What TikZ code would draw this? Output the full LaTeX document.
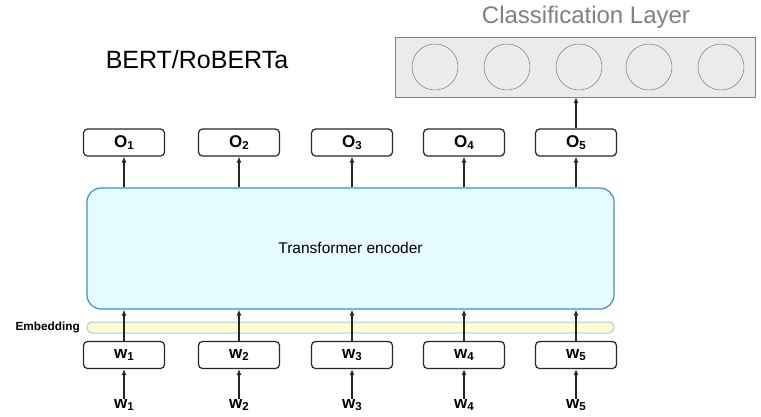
\documentclass[tikz,border=0pt]{standalone}
\usepackage{fontspec}
\setmainfont{Liberation Sans}
\usetikzlibrary{arrows.meta}

\tikzset{
  tokbox/.style={draw=black!85, line width=1.2pt, rounded corners=4pt, minimum width=81pt, minimum height=27pt, inner sep=0pt, font=\fontsize{17}{17}\selectfont\bfseries},
  tok/.style={inner sep=1pt, font=\fontsize{17}{17}\selectfont\bfseries},
  neuron/.style={draw=black!60, circle, minimum size=46pt, inner sep=0pt},
  up/.style={-{Latex[length=6pt,width=5pt]}, line width=1.1pt, black!85}
}
\newcommand{\sub}[1]{\raisebox{-1.5pt}{\fontsize{11.5}{11.5}\selectfont #1}}

\begin{document}
\begin{tikzpicture}[x=1pt, y={(0pt,-1pt)}]
\useasboundingbox (0,0) rectangle (761,416);

% classification layer
\node[text=black!50, font=\fontsize{24}{24}\selectfont] (clstitle) at (586,17) {Classification Layer};
\node[draw=black!50, fill=black!8, minimum width=360pt, minimum height=60pt, inner sep=0pt] (cls) at (575,67) {};
\foreach \i/\x in {1/435,2/507,3/579,4/649,5/721}
  \node[neuron] (c\i) at (\x,67) {};

\node[font=\fontsize{25}{25}\selectfont] (model) at (197,60) {BERT/RoBERTa};

% encoder and embedding
\node[draw={rgb,255:red,58;green,143;blue,216}, line width=1.2pt, fill={rgb,255:red,230;green,251;blue,255}, rounded corners=14pt, minimum width=527pt, minimum height=121pt, inner sep=0pt] (enc) at (350.5,248.5) {};
\node[font=\fontsize{15.5}{15.5}\selectfont] (enctext) at (350.5,248) {Transformer encoder};
\node[draw={rgb,255:red,168;green,204;blue,232}, line width=1pt, fill={rgb,255:red,253;green,251;blue,208}, rounded corners=5pt, minimum width=527pt, minimum height=11pt, inner sep=0pt] (emb) at (350.5,327.5) {};
\node[font=\fontsize{11.8}{11.8}\selectfont\bfseries, anchor=east, inner sep=0pt] (embtext) at (80,327.5) {Embedding};

% tokens
\foreach \i/\x in {1/124,2/239,3/352,4/464,5/576} {
  \node[tokbox, fill=white] (o\i) at (\x,142.5) {O\sub{\i}};
  \node[tokbox, fill=white] (w\i) at (\x,355) {w\sub{\i}};
  \node[tok] (in\i) at (\x,405) {w\sub{\i}};
  \draw[up] (in\i) -- (w\i);
  \draw[up] (w\i) -- (w\i |- enc.south);
  \draw[up] (o\i |- enc.north) -- (o\i);
}
\draw[up] (o5) -- (o5 |- cls.south);
\end{tikzpicture}
\end{document}
